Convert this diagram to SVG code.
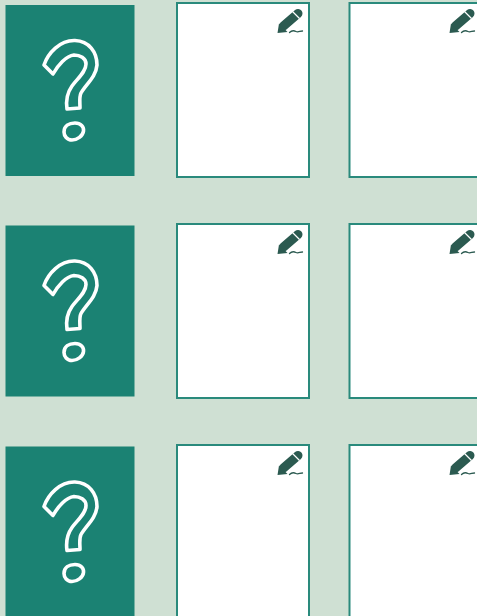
<svg xmlns="http://www.w3.org/2000/svg" width="477" height="616" viewBox="0 0 477 616">
<style>
.card{fill:#1b8273}
.q{fill:none;stroke:#fff;stroke-width:3.600;stroke-linejoin:round;stroke-linecap:round}
.box{fill:#fff;stroke:#2a8a7c;stroke-width:2}
.pen{fill:none;stroke:#2b5a50;stroke-width:9;stroke-linecap:round}
.tip{fill:#2b5a50}
.sq{fill:none;stroke:#2b5a50;stroke-width:1.300;stroke-linecap:round}
</style>
<defs>
<g id="question">
<rect class="card" x="5.500" y="5" width="129" height="171"/>
<path class="q" d="M44 65 C48 53 60 40 75 40.500 C89 41 97 52 97 65 C96 77 86 84 81 93 C79 97 80 103 80 108 L67 109 C66 102 67 93 72 86 C77 79 86 72 86 64 C86 58 80 55 74 55 C66 56 58 65 53 74 Z"/>
<path class="q" d="M64 132 C64 126 69 123 75 123 C81 123 84 127 83.500 131 C83 136 77 140 72 140 C67 140 64 136 64 132 Z"/>
</g>
<g id="pencil">
<path class="pen" d="M283.500 26 L298 13.500"/>
<path class="tip" d="M277.500 33 L279 23.500 L287.500 32 Z"/>
<path d="M292.500 11.500 L299.500 18.500" stroke="#fff" stroke-width="1.200" fill="none"/>
<path class="sq" d="M289.500 32.500 C292 30 294 30.500 296 31.500 C298 32.500 300 31 302.500 31"/>
</g>
</defs>
<rect id="background" width="477" height="616" fill="#cfe0d3"/>
<g id="connectors"/>
<g id="card-1"><use href="#question"/></g>
<g id="card-2"><use href="#question" y="220.500"/></g>
<g id="card-3"><use href="#question" y="441.500"/></g>
<g id="box-1-1"><rect class="box" x="177" y="3" width="132" height="174"/><use href="#pencil"/></g>
<g id="box-1-2"><rect class="box" x="349.500" y="3" width="140" height="174"/><use href="#pencil" x="172"/></g>
<g id="box-2-1"><rect class="box" x="177" y="224" width="132" height="174"/><use href="#pencil" y="221"/></g>
<g id="box-2-2"><rect class="box" x="349.500" y="224" width="140" height="174"/><use href="#pencil" x="172" y="221"/></g>
<g id="box-3-1"><rect class="box" x="177" y="445" width="132" height="180"/><use href="#pencil" y="442"/></g>
<g id="box-3-2"><rect class="box" x="349.500" y="445" width="140" height="180"/><use href="#pencil" x="172" y="442"/></g>
</svg>
